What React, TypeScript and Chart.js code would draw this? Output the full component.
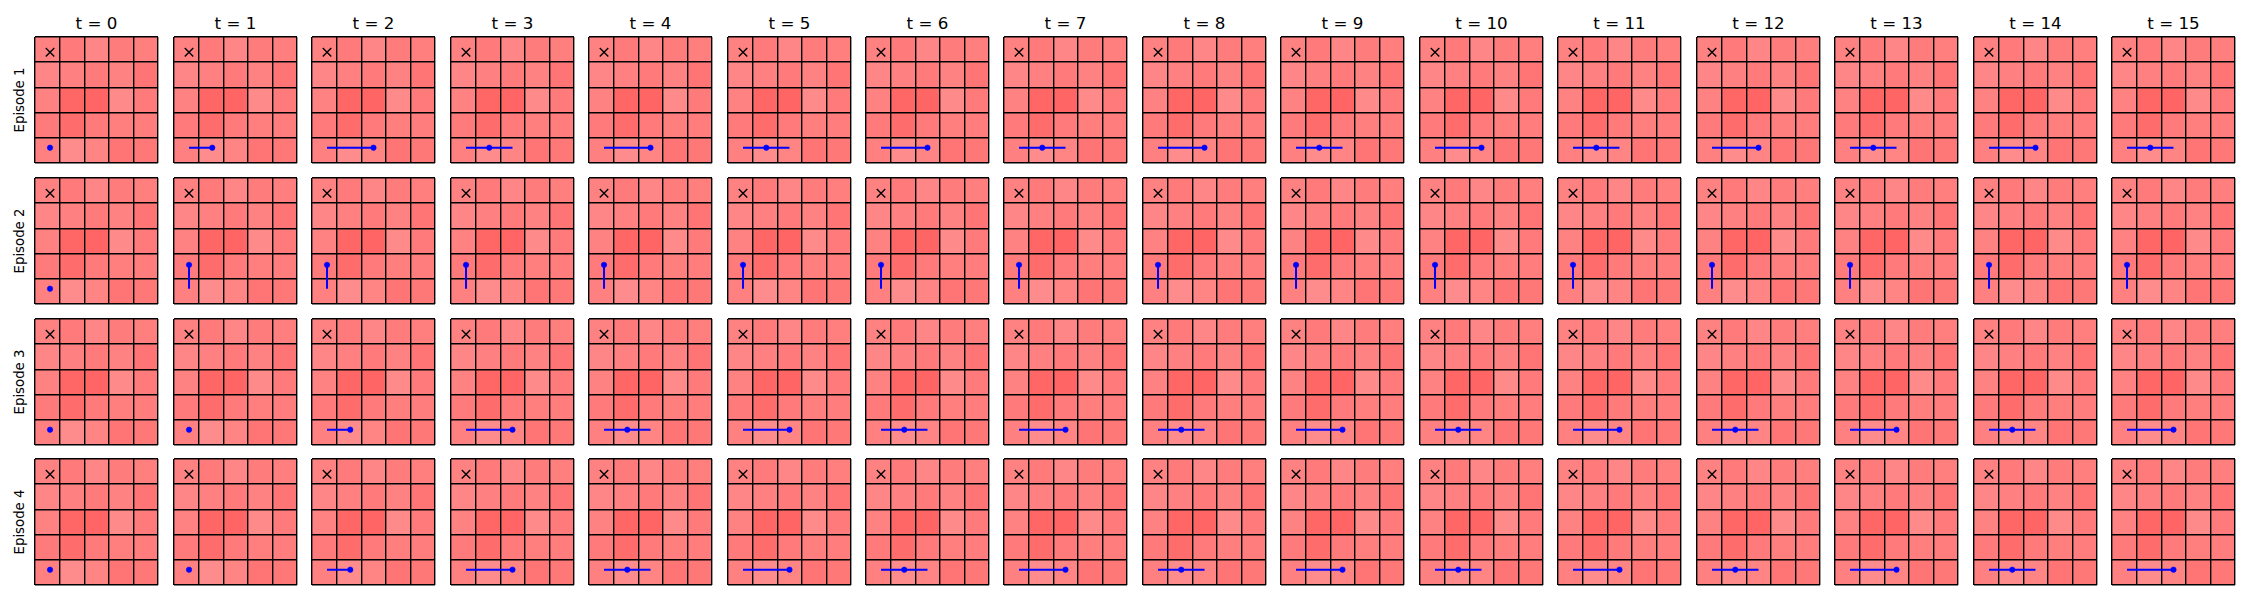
import React, { useEffect, useRef } from "react";
import { Chart, registerables } from "chart.js";

Chart.register(...registerables);

// ---------------- data ----------------
const timeSteps = [0, 1, 2, 3, 4, 5, 6, 7, 8, 9, 10, 11, 12, 13, 14, 15];
const episodeLabels = ["Episode 1", "Episode 2", "Episode 3", "Episode 4"];

// cell values (0 = lowest / lightest, 1 = highest / darkest), rows listed from top (row 4) to bottom (row 0)
const valuesRow4 = [0.25, 0.45, 0.15, 0.4, 0.35];
const valuesRow3 = [0.15, 0.3, 0.45, 0.25, 0.6];
const valuesRow2 = [0.25, 0.92, 0.97, 0.05, 0.45];
const valuesRow1 = [0.45, 0.78, 0.42, 0.32, 0.38];
const valuesRow0 = [0.3, 0.0, 0.2, 0.6, 0.5];
const cellValues = [valuesRow4, valuesRow3, valuesRow2, valuesRow1, valuesRow0];

// goal cell (column, row)
const goalCol = 0;
const goalRow = 4;

// agent positions per time step (column, row)
const ep1Cols = [0, 1, 2, 1, 2, 1, 2, 1, 2, 1, 2, 1, 2, 1, 2, 1];
const ep1Rows = [0, 0, 0, 0, 0, 0, 0, 0, 0, 0, 0, 0, 0, 0, 0, 0];
const ep2Cols = [0, 0, 0, 0, 0, 0, 0, 0, 0, 0, 0, 0, 0, 0, 0, 0];
const ep2Rows = [0, 1, 1, 1, 1, 1, 1, 1, 1, 1, 1, 1, 1, 1, 1, 1];
const ep3Cols = [0, 0, 1, 2, 1, 2, 1, 2, 1, 2, 1, 2, 1, 2, 1, 2];
const ep3Rows = [0, 0, 0, 0, 0, 0, 0, 0, 0, 0, 0, 0, 0, 0, 0, 0];
const ep4Cols = [0, 0, 1, 2, 1, 2, 1, 2, 1, 2, 1, 2, 1, 2, 1, 2];
const ep4Rows = [0, 0, 0, 0, 0, 0, 0, 0, 0, 0, 0, 0, 0, 0, 0, 0];

const episodeCols = [ep1Cols, ep2Cols, ep3Cols, ep4Cols];
const episodeRows = [ep1Rows, ep2Rows, ep3Rows, ep4Rows];

// ---------------- layout ----------------
const FIRST_LEFT = 35.3;
const COL_PITCH = 138.45;
const PANEL_W = 123;
const FIRST_TOP = 37.3;
const ROW_PITCH = 140.67;
const PANEL_H = 126;
const PAD = 4;
const EDGE = 1.4;
const FONT = "'DejaVu Sans', sans-serif";

function cellColor(v: number) {
  const a = 0.45 + 0.16 * v;
  return `rgba(255,0,0,${a.toFixed(3)})`;
}

const gridAxis = (min: number, max: number) => ({
  type: "linear",
  min,
  max,
  display: true,
  offset: false,
  ticks: { display: false, stepSize: 1 },
  grid: { color: "#000000", lineWidth: EDGE, drawTicks: false, tickLength: 0, offset: false, z: 1 },
  border: { display: false },
});

const hiddenAxis = (min: number, max: number) => ({
  type: "linear",
  min,
  max,
  display: false,
  offset: false,
});

const commonOptions = {
  animation: false,
  responsive: false,
  events: [],
  layout: { padding: PAD },
  plugins: {
    legend: { display: false },
    tooltip: { enabled: false },
    title: { display: false },
  },
};

function Panel({ ep, t, left, top }: { ep: number; t: number; left: number; top: number }) {
  const baseRef = useRef<HTMLCanvasElement>(null);
  const overRef = useRef<HTMLCanvasElement>(null);
  useEffect(() => {
    const cols = episodeCols[ep];
    const rows = episodeRows[ep];
    const path: { x: number; y: number }[] = [];
    for (let i = 0; i <= t; i++) path.push({ x: cols[i] + 0.5, y: rows[i] + 0.5 });
    const cells: { x: number; y: number[]; v: number }[] = [];
    cellValues.forEach((rowVals, ri) => {
      const row = 4 - ri;
      rowVals.forEach((v, col) => cells.push({ x: col + 0.5, y: [row, row + 1], v }));
    });

    const base = new Chart(baseRef.current as HTMLCanvasElement, {
      type: "bar",
      data: {
        datasets: [
          {
            data: cells.map((c) => ({ x: c.x, y: c.y })),
            backgroundColor: cells.map((c) => cellColor(c.v)),
            borderWidth: 0,
            borderSkipped: false,
            categoryPercentage: 1,
            barPercentage: 1,
            inflateAmount: 0,
          } as any,
        ],
      },
      options: {
        ...commonOptions,
        scales: { x: gridAxis(0, 5), y: gridAxis(0, 5) },
      } as any,
    });

    const over = new Chart(overRef.current as HTMLCanvasElement, {
      type: "scatter",
      data: {
        datasets: [
          {
            type: "scatter",
            data: [path[path.length - 1]],
            pointStyle: "circle",
            pointRadius: 2.7,
            backgroundColor: "#0000ff",
            borderColor: "#0000ff",
            borderWidth: 0.6,
            order: 1,
          } as any,
          {
            type: "line",
            data: path,
            borderColor: "#0000ff",
            borderWidth: 2,
            pointRadius: 0,
            fill: false,
            tension: 0,
            order: 2,
          } as any,
          {
            type: "scatter",
            data: [{ x: goalCol + 0.5, y: goalRow + 0.5 }],
            pointStyle: "crossRot",
            pointRadius: 6,
            borderColor: "#000000",
            borderWidth: 1.4,
            order: 3,
          } as any,
        ],
      },
      options: {
        ...commonOptions,
        scales: { x: hiddenAxis(0, 5), y: hiddenAxis(0, 5) },
      } as any,
    });
    return () => {
      base.destroy();
      over.destroy();
    };
  }, [ep, t]);
  const style = {
    position: "absolute" as const,
    left: left - PAD,
    top: top - PAD,
    width: PANEL_W + 2 * PAD,
    height: PANEL_H + 2 * PAD,
  };
  return (
    <>
      <canvas ref={baseRef} width={PANEL_W + 2 * PAD} height={PANEL_H + 2 * PAD} style={style} />
      <canvas ref={overRef} width={PANEL_W + 2 * PAD} height={PANEL_H + 2 * PAD} style={style} />
    </>
  );
}

export default function App() {
  const panels: React.ReactNode[] = [];
  const titles: React.ReactNode[] = [];
  const labels: React.ReactNode[] = [];
  timeSteps.forEach((t, c) => {
    const left = Math.round(FIRST_LEFT + c * COL_PITCH);
    titles.push(
      <div
        key={`t${c}`}
        style={{
          position: "absolute",
          left: left + PANEL_W / 2,
          top: 15.2,
          transform: "translateX(-50%)",
          fontFamily: FONT,
          fontSize: 16.7,
          lineHeight: 1,
          whiteSpace: "nowrap",
          color: "#000",
        }}
      >
        {`t = ${t}`}
      </div>
    );
    episodeLabels.forEach((_, r) => {
      const top = Math.round(FIRST_TOP + r * ROW_PITCH);
      panels.push(<Panel key={`p${r}_${c}`} ep={r} t={t} left={left} top={top} />);
    });
  });
  episodeLabels.forEach((lab, r) => {
    const top = Math.round(FIRST_TOP + r * ROW_PITCH);
    labels.push(
      <div
        key={`l${r}`}
        style={{ position: "absolute", left: 20.1, top: top + PANEL_H / 2, width: 0, height: 0 }}
      >
        <div
          style={{
            position: "absolute",
            left: 0,
            top: 0,
            transform: "translate(-50%, -50%) rotate(-90deg)",
            fontFamily: FONT,
            fontSize: 13.3,
            lineHeight: 1,
            whiteSpace: "nowrap",
            color: "#000",
          }}
        >
          {lab}
        </div>
      </div>
    );
  });
  return (
    <div style={{ position: "absolute", left: 0, top: 0, width: 2250, height: 600, background: "#ffffff", overflow: "hidden" }}>
      {titles}
      {labels}
      {panels}
    </div>
  );
}
